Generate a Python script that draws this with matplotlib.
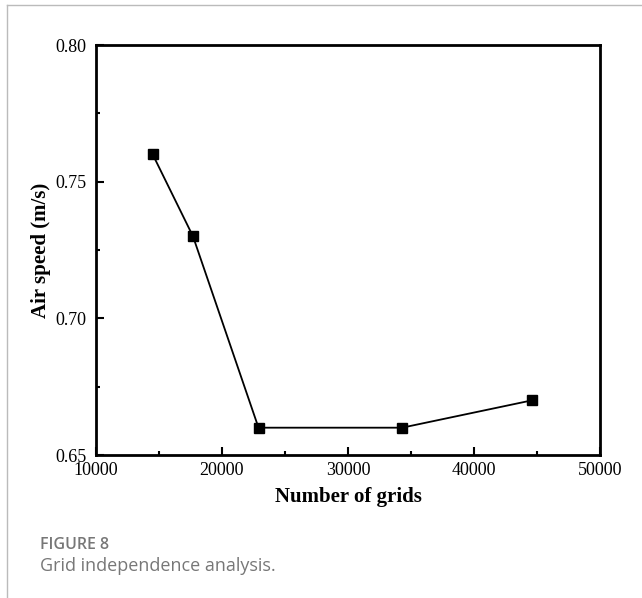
import matplotlib
matplotlib.use("Agg")
import matplotlib.pyplot as plt
from matplotlib.ticker import MultipleLocator
from matplotlib.lines import Line2D

grids = [14500, 17700, 22900, 34300, 44600]
speed = [0.76, 0.73, 0.66, 0.66, 0.67]
xticks = [10000, 20000, 30000, 40000, 50000]
yticks = [0.65, 0.70, 0.75, 0.80]

plt.rcParams["font.family"] = ["Liberation Serif"]

fig = plt.figure(figsize=(6.42, 5.98), dpi=100)
ax = fig.add_axes([0.1495, 0.2391, 0.785, 0.6856])

ax.plot(grids, speed, color="black", lw=1.3, marker="s", ms=7, mfc="black", mec="black")

ax.set_xlim(10000, 50000)
ax.set_ylim(0.65, 0.80)
ax.set_xticks(xticks)
ax.set_yticks(yticks)
ax.set_yticklabels([f"{v:.2f}" for v in yticks])
ax.xaxis.set_minor_locator(MultipleLocator(5000))
ax.yaxis.set_minor_locator(MultipleLocator(0.025))
ax.tick_params(which="major", direction="in", length=6, width=1.5, labelsize=13)
ax.tick_params(axis="x", which="major", pad=5)
ax.tick_params(axis="y", which="major", pad=7)
ax.tick_params(which="minor", direction="in", length=3, width=1.5)
for s in ax.spines.values():
    s.set_linewidth(2)

ax.set_xlabel("Number of grids", fontsize=15, fontweight="bold", labelpad=6)
ax.set_ylabel("Air speed (m/s)", fontsize=15, fontweight="bold", labelpad=3)

# page decoration: thin gray border and caption
fig.add_artist(Line2D([7/642, 1], [1 - 5/598, 1 - 5/598], color="#bbbbbb", lw=1))
fig.add_artist(Line2D([7/642, 7/642], [0, 1 - 5/598], color="#bbbbbb", lw=1))
fig.text(40/642, 1 - 545/598, "FIGURE 8", family="Open Sans", fontsize=11.5,
         fontweight="semibold", color="#777777", va="center")
fig.text(40/642, 1 - 566/598, "Grid independence analysis.", family="Open Sans",
         fontsize=13, color="#777777", va="center")

fig.savefig("out.png", dpi=100)
